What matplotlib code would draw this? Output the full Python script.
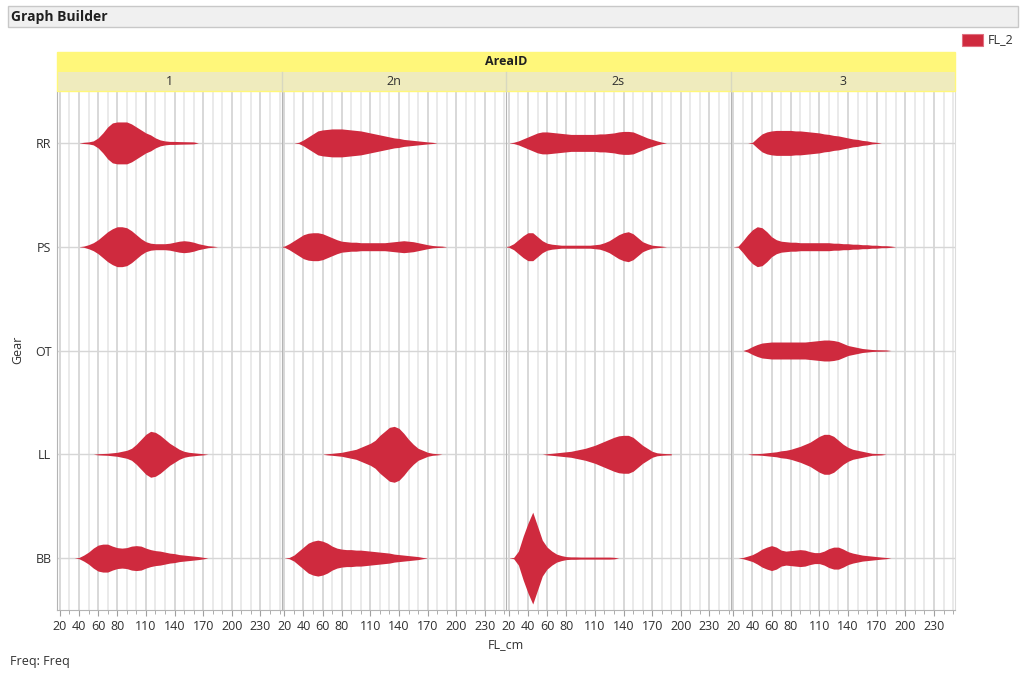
import numpy as np
import matplotlib
matplotlib.use("Agg")
import matplotlib.pyplot as plt
from matplotlib.patches import Rectangle
from matplotlib.ticker import FixedLocator, NullFormatter

plt.rcParams['font.family'] = ['Open Sans', 'DejaVu Sans']

# Facets and categories
areas = ['1', '2n', '2s', '3']
gears = ['RR', 'PS', 'OT', 'LL', 'BB']

# Fork length positions where the violin widths are sampled (cm)
fl_grid = [15, 20, 25, 30, 35, 40, 45, 50, 55, 60, 65, 70, 75, 80, 85, 90, 95, 100,
           105, 110, 115, 120, 125, 130, 135, 140, 145, 150, 155, 160, 165, 170, 175,
           180, 185, 190]

fl_ticks = [20, 40, 60, 80, 110, 140, 170, 200, 230]
fl_minor = [30, 50, 70, 90, 100, 120, 130, 150, 160, 180, 190, 210, 220, 240, 250]

# Half-widths of each violin along fl_grid (density, 104 = one row)
rr_1 = [0, 0, 0, 0, 0, 0, 0.6, 1, 2, 5, 10, 16, 20, 21, 21, 21, 19, 16, 13, 10, 8, 5, 3, 2,
        1.5, 1.5, 1.3, 1.2, 1.1, 1, 0, 0, 0, 0, 0, 0]
rr_2n = [0, 0, 0, 0, 0.6, 3, 6, 9, 12, 13, 13.5, 14, 14, 14, 13.5, 13, 12.5, 12, 11, 10, 9, 8,
         7, 6, 5, 4.5, 3.5, 3, 2.5, 2, 1.5, 1, 0.6, 0, 0, 0]
rr_2s = [0, 0, 0.6, 2, 4, 6, 8, 10, 11, 11, 10.5, 10, 9.5, 9, 8.5, 8.5, 8.5, 8.5, 8.5, 8.5, 9,
         9, 9.5, 10, 11, 11.5, 11.5, 11, 9, 7, 5, 3.5, 2, 0.8, 0, 0]
rr_3 = [0, 0, 0, 0, 0, 0.6, 5, 9, 11, 12, 12.5, 12.5, 12.5, 12.5, 12, 12, 11.5, 11, 10.5, 10,
        9, 8.5, 7.5, 7, 6, 5, 4, 3.5, 2.5, 2, 1, 0.6, 0, 0, 0, 0]

ps_1 = [0, 0, 0, 0, 0, 0, 0.6, 2, 4, 7, 11, 15, 18, 20, 20, 19, 16, 12, 8, 5, 3.5, 3, 3, 3,
        3.5, 4.5, 5.5, 6, 5.5, 4.5, 3, 2, 1, 0.6, 0, 0]
ps_2n = [0, 0.6, 3, 6, 9, 12, 13.5, 14, 14, 13, 11, 9, 7, 5.5, 5, 4.5, 4.5, 4, 4, 4, 4, 4, 4,
         4.5, 5, 5.5, 6, 5.5, 5, 4, 3, 2, 1.2, 0.8, 0.6, 0]
ps_2s = [0, 0.6, 3, 7, 11, 14, 14, 10, 6, 3.5, 2.5, 2, 1.5, 1.5, 1.5, 1.5, 1.5, 1.5, 1.5, 2,
         2.5, 4, 6, 9, 12, 14, 15, 13, 9, 5, 3, 1.5, 1, 0.6, 0, 0]
ps_3 = [0, 0, 0.6, 6, 12, 17, 20, 19, 15, 10, 7, 5.5, 5, 4.5, 4.5, 4, 4, 4, 4, 4, 4, 4, 3.5,
        3.5, 3, 3, 2.5, 2.5, 2, 2, 1.5, 1.5, 1, 1, 0.6, 0]

ot_3 = [0, 0, 0, 0, 1.5, 4, 6, 7.5, 8, 8.5, 8.5, 8.5, 8.5, 8.5, 8.5, 8.5, 8.5, 9, 9.5, 10,
        10.5, 10.5, 10, 9, 7, 5, 4, 3, 2, 1.5, 1, 0.8, 0.7, 0.6, 0, 0]

ll_1 = [0, 0, 0, 0, 0, 0, 0, 0, 0, 0.6, 0.8, 1, 1.5, 2, 3, 4, 6, 10, 15, 20, 23, 22, 19, 15,
        11, 8, 5, 3, 2, 1.5, 1, 0.6, 0, 0, 0, 0]
ll_2n = [0, 0, 0, 0, 0, 0, 0, 0, 0, 0, 0.6, 1, 1.5, 2, 3, 4, 5, 7, 9, 11, 14, 19, 23, 27, 28,
         26, 21, 15, 10, 6, 4, 2, 1, 0.6, 0, 0]
ll_2s = [0, 0, 0, 0, 0, 0, 0, 0, 0, 0.6, 1, 1.5, 2, 2.5, 3, 4, 5, 6, 7.5, 9, 11, 13, 15, 17,
         18.5, 19, 19, 17, 13, 9, 6, 3, 1.5, 1, 0.7, 0.6]
ll_3 = [0, 0, 0, 0, 0, 0.6, 0.7, 1, 1.5, 2, 2.5, 3.5, 4, 5, 6.5, 8, 10, 12, 15, 18, 20, 20,
        18, 14, 10, 7, 5, 4, 3, 2, 1, 0.8, 0.6, 0, 0, 0]

bb_1 = [0, 0, 0, 0, 0, 0.6, 3, 6, 10, 13, 14, 14, 12, 10.5, 10, 10.5, 12, 12.5, 12, 10, 8.5,
        7.5, 7, 6, 5, 4.5, 3.5, 3, 2.5, 2, 1.5, 0.8, 0, 0, 0, 0]
bb_2n = [0, 0, 0.6, 3, 7, 11, 15, 17, 18, 17, 15, 12, 10, 9, 8.5, 8.5, 8, 8, 7.5, 7, 6.5, 6,
         5.5, 5, 4, 3.5, 3, 2.5, 2, 1.5, 0.6, 0, 0, 0, 0, 0]
bb_2s = [0, 0, 0.6, 7, 22, 35, 46, 32, 18, 11, 7, 4, 2.5, 1.5, 1.2, 1.2, 1, 1, 1, 1, 1, 1, 1,
         0.8, 0, 0, 0, 0, 0, 0, 0, 0, 0, 0, 0, 0]
bb_3 = [0, 0, 0, 0.6, 2, 3.5, 6, 9, 11, 12.5, 11, 8, 7, 7.5, 8, 8.5, 8, 6.5, 5.5, 5.5, 7, 9.5,
        11, 11, 9, 6.5, 5, 4, 3, 2.5, 2, 1.5, 1, 0.6, 0, 0]

violins = {
    ('1', 'RR'): rr_1, ('2n', 'RR'): rr_2n, ('2s', 'RR'): rr_2s, ('3', 'RR'): rr_3,
    ('1', 'PS'): ps_1, ('2n', 'PS'): ps_2n, ('2s', 'PS'): ps_2s, ('3', 'PS'): ps_3,
    ('3', 'OT'): ot_3,
    ('1', 'LL'): ll_1, ('2n', 'LL'): ll_2n, ('2s', 'LL'): ll_2s, ('3', 'LL'): ll_3,
    ('1', 'BB'): bb_1, ('2n', 'BB'): bb_2n, ('2s', 'BB'): bb_2s, ('3', 'BB'): bb_3,
}

RED = '#CF2A3E'
TXT = '#303030'
FS = 9
W, H = 1024, 675
fig = plt.figure(figsize=(W / 100, H / 100), dpi=100)


def box(x0, y0, x1, y1, **kw):
    # rectangle given in pixel coordinates, origin top-left
    fig.add_artist(Rectangle((x0 / W, 1 - y1 / H), (x1 - x0) / W, (y1 - y0) / H,
                             transform=fig.transFigure, **kw))


def label(x, y, s, **kw):
    fig.text(x / W, 1 - y / H, s, **kw)


# Window title bar
box(8, 6, 1018, 27, facecolor='#F0F0F0', edgecolor='#C8C8C8', lw=1)
label(11, 16.5, 'Graph Builder', fontsize=10, fontweight='bold', va='center', color='#202020')

# Panels
left, top, bottom = 57, 91, 610
pw = 224.5
for i, area in enumerate(areas):
    ax = fig.add_axes([(left + i * pw) / W, 1 - bottom / H, pw / W, (bottom - top) / H])
    ax.set_xlim(17, 252)
    ax.set_ylim(len(gears) - 0.5, -0.5)
    ax.xaxis.set_major_locator(FixedLocator(fl_ticks))
    ax.xaxis.set_minor_locator(FixedLocator(fl_minor))
    ax.xaxis.set_minor_formatter(NullFormatter())
    ax.set_yticks(range(len(gears)))
    ax.grid(True, which='major', axis='x', color='#D2D2D2', lw=1.2)
    ax.grid(True, which='minor', axis='x', color='#E6E6E6', lw=1.2)
    ax.grid(True, which='major', axis='y', color='#D6D6D6', lw=1)
    ax.set_axisbelow(True)
    ax.tick_params(axis='x', which='major', length=4, color='#A0A0A0', labelsize=FS,
                   pad=3, labelcolor=TXT)
    ax.tick_params(axis='x', which='minor', length=3, color='#A0A0A0')
    ax.tick_params(axis='y', length=0, labelsize=FS, pad=4, labelcolor=TXT)
    if i == 0:
        ax.set_yticklabels(gears)
    else:
        ax.set_yticklabels([])
    for side in ['top', 'right']:
        ax.spines[side].set_visible(False)
    ax.spines['left'].set_color('#B4B4B4')
    ax.spines['bottom'].set_color('#B4B4B4')
    if i == len(areas) - 1:
        ax.spines['right'].set_visible(True)
        ax.spines['right'].set_color('#DCDCDC')

    for j, gear in enumerate(gears):
        w = violins.get((area, gear))
        if w is None:
            continue
        w = np.array(w) / 104.0
        ax.fill_between(fl_grid, j - w, j + w, color=RED, lw=0)

    # facet label row
    x0 = left + i * pw
    box(x0, 72, x0 + pw, 91, facecolor='#EFEBBD', edgecolor='none')
    label(x0 + pw / 2, 81.5, area, fontsize=FS, ha='center', va='center', color=TXT)
    if i > 0:
        fig.add_artist(plt.Line2D([x0 / W, x0 / W], [1 - 91 / H, 1 - 72 / H],
                                  transform=fig.transFigure, color='#D8D8C0', lw=1))

# Facet header
box(left, 52, left + 4 * pw, 72, facecolor='#FFF77A', edgecolor='none')
box(left, 52, left + 4 * pw, 91, facecolor='none', edgecolor='#FFF77A', lw=1)
label(left + 2 * pw, 61.5, 'AreaID', fontsize=FS, fontweight='bold', ha='center', va='center',
      color='#202020')

# Axis titles
label(18, 350, 'Gear', fontsize=FS, rotation=90, ha='center', va='center', color=TXT)
label(506, 645, 'FL_cm', fontsize=FS, ha='center', va='center', color=TXT)
label(10, 662, 'Freq: Freq', fontsize=FS, va='center', color=TXT)

# Legend
box(962, 34, 983, 46, facecolor=RED, edgecolor='#E07080', lw=0.8)
label(988, 40, 'FL_2', fontsize=FS, va='center', color=TXT)

fig.savefig('out.png', dpi=100)
